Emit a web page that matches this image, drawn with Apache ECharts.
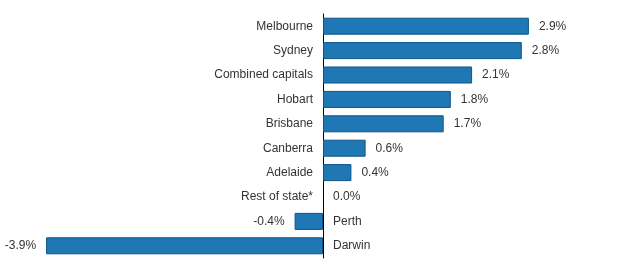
<!DOCTYPE html>
<html><head><meta charset="utf-8">
<script src="https://cdn.jsdelivr.net/npm/echarts@6/dist/echarts.min.js"></script>
<style>html,body{margin:0;padding:0;background:#fff}#c{width:617px;height:280px}</style>
</head><body><div id="c"></div>
<script>
const categories = ["Melbourne","Sydney","Combined capitals","Hobart","Brisbane","Canberra","Adelaide","Rest of state*","Perth","Darwin"];
const values = [2.9, 2.8, 2.1, 1.8, 1.7, 0.6, 0.4, 0.0, -0.4, -3.9];
const fontFamily = 'Arial, "Liberation Sans", sans-serif';
const textColor = '#333';
const chart = echarts.init(document.getElementById('c'), null, {renderer:'canvas'});
chart.setOption({
  animation:false,
  grid:{left:39, right:10, top:14, bottom:22},
  xAxis:{type:'value', min:-4, max:4, show:false},
  yAxis:{type:'category', data:categories, inverse:true,
    axisLine:{show:true, onZero:true, lineStyle:{color:'#000', width:1}},
    axisTick:{show:false}, axisLabel:{show:false}, splitLine:{show:false}},
  series:[
    {type:'bar', barWidth:17,
     itemStyle:{color:'#1f77b4', borderColor:'#0d5589', borderWidth:1},
     data: values.map(v=>({value:v,
        itemStyle: v===0 ? {borderWidth:0, color:'rgba(0,0,0,0)'} : undefined,
        label:{show:true, position: v<0?'left':'right', distance:10,
        formatter: v.toFixed(1)+'%', color:textColor, fontSize:12, fontFamily:fontFamily}})),
     z:2},
    {type:'bar', barWidth:17, barGap:'-100%', silent:true,
     itemStyle:{color:'rgba(0,0,0,0)', borderWidth:0},
     data: values.map((v,i)=>({value:0, label:{show:true, position: v<0?'right':'left', distance:10,
        formatter: categories[i], color:textColor, fontSize:12, fontFamily:fontFamily, opacity:1}})),
     z:3}
  ]
});
</script></body></html>
